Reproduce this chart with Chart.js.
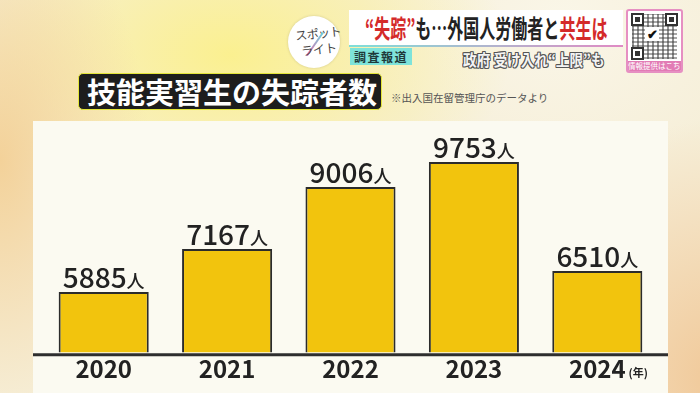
<!DOCTYPE html>
<html><head><meta charset="utf-8">
<script src="https://cdn.jsdelivr.net/npm/chart.js@4/dist/chart.umd.min.js"></script>
<style>
html,body{margin:0;padding:0;}
body{width:700px;height:393px;overflow:hidden;position:relative;font-family:"Noto Sans CJK JP",sans-serif;
background:
 radial-gradient(ellipse 150px 260px at 0px 160px, rgba(243,208,150,0.95), rgba(243,208,150,0) 100%),
 radial-gradient(ellipse 280px 170px at 230px 55px, rgba(251,240,140,0.95), rgba(251,240,140,0) 100%),
 radial-gradient(ellipse 230px 260px at 720px 380px, rgba(240,196,145,0.9), rgba(240,196,145,0) 100%),
 radial-gradient(ellipse 200px 160px at 560px 20px, rgba(250,246,232,1), rgba(250,246,232,0) 100%),
 #F6EFD9;}
#panel{position:absolute;left:33px;top:121px;width:635px;height:272px;background:#FBFAF1;}
#chart{position:absolute;left:0;top:0;}
#title{position:absolute;left:78px;top:73px;width:302px;height:35px;background:#1d1d1d;border:1.5px solid #E4E63A;border-radius:5px;box-sizing:content-box;}
#title span{position:absolute;left:8px;top:-2px;color:#fff;font-weight:700;font-size:29px;line-height:38px;white-space:nowrap;}
#note{position:absolute;left:391px;top:90px;font-size:10.5px;color:#555;white-space:nowrap;}
#logo{position:absolute;left:288px;top:16px;width:52px;height:52px;border-radius:50%;background:#fff;box-shadow:0 0 3px rgba(0,0,0,0.15);}
#logo .l1{position:absolute;left:7px;top:10px;font-size:12px;color:#444;line-height:13px;transform:rotate(-6deg);white-space:nowrap;letter-spacing:-0.5px;}
#logo .l2{position:absolute;left:13px;top:26px;font-size:12px;color:#444;line-height:13px;transform:rotate(-6deg);white-space:nowrap;}
#logo .sl{position:absolute;left:26px;top:14px;width:2px;height:28px;background:linear-gradient(#6ad3e0,#e86aa8);transform:rotate(35deg);}
#banner{position:absolute;left:349px;top:10px;width:274px;height:35px;background:#fff;border-style:solid;border-width:0 0 2px 0;border-image:linear-gradient(90deg,#7fe0d8,#e08ac4) 1;}
#banner > span{position:absolute;left:16px;top:-3px;font-size:25px;font-weight:700;color:#222;white-space:nowrap;transform:scaleX(0.64);transform-origin:0 0;line-height:40px;}
#banner .r{color:#D42A2A;}
#tag{position:absolute;left:350px;top:48px;width:62px;height:17px;background:#7EE3DA;font-size:12px;font-weight:700;color:#1f3a3a;line-height:17px;text-align:center;letter-spacing:1.5px;}
#sub{position:absolute;left:463px;top:49px;font-size:15.5px;font-weight:700;color:#f4f4f4;white-space:nowrap;line-height:20px;transform:scaleX(0.88);transform-origin:0 0;
 text-shadow:-1px -1px 0 #555,1px -1px 0 #555,-1px 1px 0 #555,1px 1px 0 #555,0 1px 0 #555,0 -1px 0 #555,1px 0 0 #555,-1px 0 0 #555;}
#qr{position:absolute;left:626px;top:9px;width:53px;height:60px;border:2px solid #E68FC2;border-radius:3px;background:#fff;overflow:hidden;}
#qr .pat{position:absolute;left:4px;top:3px;width:45px;height:45px;
 background:
 repeating-linear-gradient(90deg, rgba(60,60,60,0.55) 0 2px, transparent 2px 5px),
 repeating-linear-gradient(0deg, rgba(60,60,60,0.45) 0 2px, transparent 2px 4px);}
#qr .f{position:absolute;width:9px;height:9px;border:2px solid #333;background:#fff;}
#qr .f::after{content:"";position:absolute;left:2px;top:2px;width:5px;height:5px;background:#333;}
#qr .c{position:absolute;left:17px;top:16px;width:14px;height:14px;background:#fff;font-size:13px;line-height:14px;text-align:center;color:#111;font-weight:700;}
#qr .t{position:absolute;left:0;bottom:0;width:53px;height:10px;background:#E27BB5;color:#fff;font-size:7.5px;line-height:10px;text-align:center;white-space:nowrap;}
</style></head>
<body>
<div id="panel"></div>
<div id="logo"><div class="l1">スポット</div><div class="sl"></div><div class="l2">ライト</div></div>
<div id="banner"><span><span class="r">“失踪”</span>も…外国人労働者と<span class="r">共生は</span></span></div>
<div id="tag">調査報道</div>
<div id="sub">政府 受け入れ“上限”も</div>
<div id="qr"><div class="pat"></div>
 <div class="f" style="left:3px;top:2px"></div><div class="f" style="left:37px;top:2px"></div><div class="f" style="left:3px;top:36px"></div>
 <div class="c">✔</div><div class="t">情報提供はこちら</div></div>
<div id="title"><span>技能実習生の失踪者数</span></div>
<div id="note">※出入国在留管理庁のデータより</div>
<canvas id="chart" width="700" height="393"></canvas>
<script>
const years = ['2020','2021','2022','2023','2024'];
const missingTrainees = [5885, 7167, 9006, 9753, 6510];
const valueUnit = '人';
const yearUnit = '(年)';

const FONT = '"Noto Sans CJK JP", "Noto Sans", sans-serif';

const baseline = {
  id:'baseline',
  afterDatasetsDraw(chart){
    const {ctx, chartArea:a} = chart;
    ctx.save();
    ctx.strokeStyle = '#2e2e2e';
    ctx.lineWidth = 3;
    ctx.beginPath();
    ctx.moveTo(a.left - 9, a.bottom + 2.5);
    ctx.lineTo(a.right + 9, a.bottom + 2.5);
    ctx.stroke();
    ctx.restore();
  }
};

const valueLabels = {
  id:'valueLabels',
  afterDatasetsDraw(chart){
    const ctx = chart.ctx;
    const meta = chart.getDatasetMeta(0);
    meta.data.forEach((el, i) => {
      const num = String(chart.data.datasets[0].data[i]);
      ctx.save();
      ctx.fillStyle = '#222';
      ctx.textAlign = 'left';
      ctx.textBaseline = 'alphabetic';
      ctx.font = '500 28px ' + FONT;
      const w1 = ctx.measureText(num).width;
      ctx.font = '500 18px ' + FONT;
      const w2 = ctx.measureText(valueUnit).width;
      const x0 = el.x - (w1 + w2) / 2;
      const yb = el.y - 4;
      ctx.font = '500 28px ' + FONT;
      ctx.fillText(num, x0, yb);
      ctx.font = '500 18px ' + FONT;
      ctx.fillText(valueUnit, x0 + w1, yb);
      ctx.restore();
    });
  }
};

const yearSuffix = {
  id:'yearSuffix',
  afterDraw(chart){
    const ctx = chart.ctx;
    const xs = chart.scales.x;
    const last = years.length - 1;
    const px = xs.getPixelForTick(last);
    ctx.save();
    ctx.font = 'bold 24px ' + FONT;
    const lw = ctx.measureText(years[last]).width;
    ctx.font = 'bold 11px ' + FONT;
    ctx.fillStyle = '#222';
    ctx.textAlign = 'left';
    ctx.textBaseline = 'alphabetic';
    ctx.fillText(yearUnit, px + lw / 2 + 3, xs.top + 25);
    ctx.restore();
  }
};

new Chart(document.getElementById('chart'), {
  type:'bar',
  data:{
    labels: years,
    datasets:[{
      data: missingTrainees,
      backgroundColor:'#F2C40D',
      borderColor:'#2b2b2b',
      borderWidth:2,
      borderSkipped:'start',
      categoryPercentage:1,
      barPercentage:0.73
    }]
  },
  options:{
    responsive:false,
    animation:false,
    layout:{padding:{left:42, right:41, top:130, bottom:8}},
    plugins:{legend:{display:false}, tooltip:{enabled:false}},
    scales:{
      x:{
        grid:{display:false, drawTicks:false},
        border:{display:false},
        ticks:{color:'#222', padding:2, font:{family:FONT, size:24, weight:'bold'}}
      },
      y:{
        display:false,
        min:4100,
        max:10700
      }
    }
  },
  plugins:[baseline, valueLabels, yearSuffix]
});
</script>
</body></html>
